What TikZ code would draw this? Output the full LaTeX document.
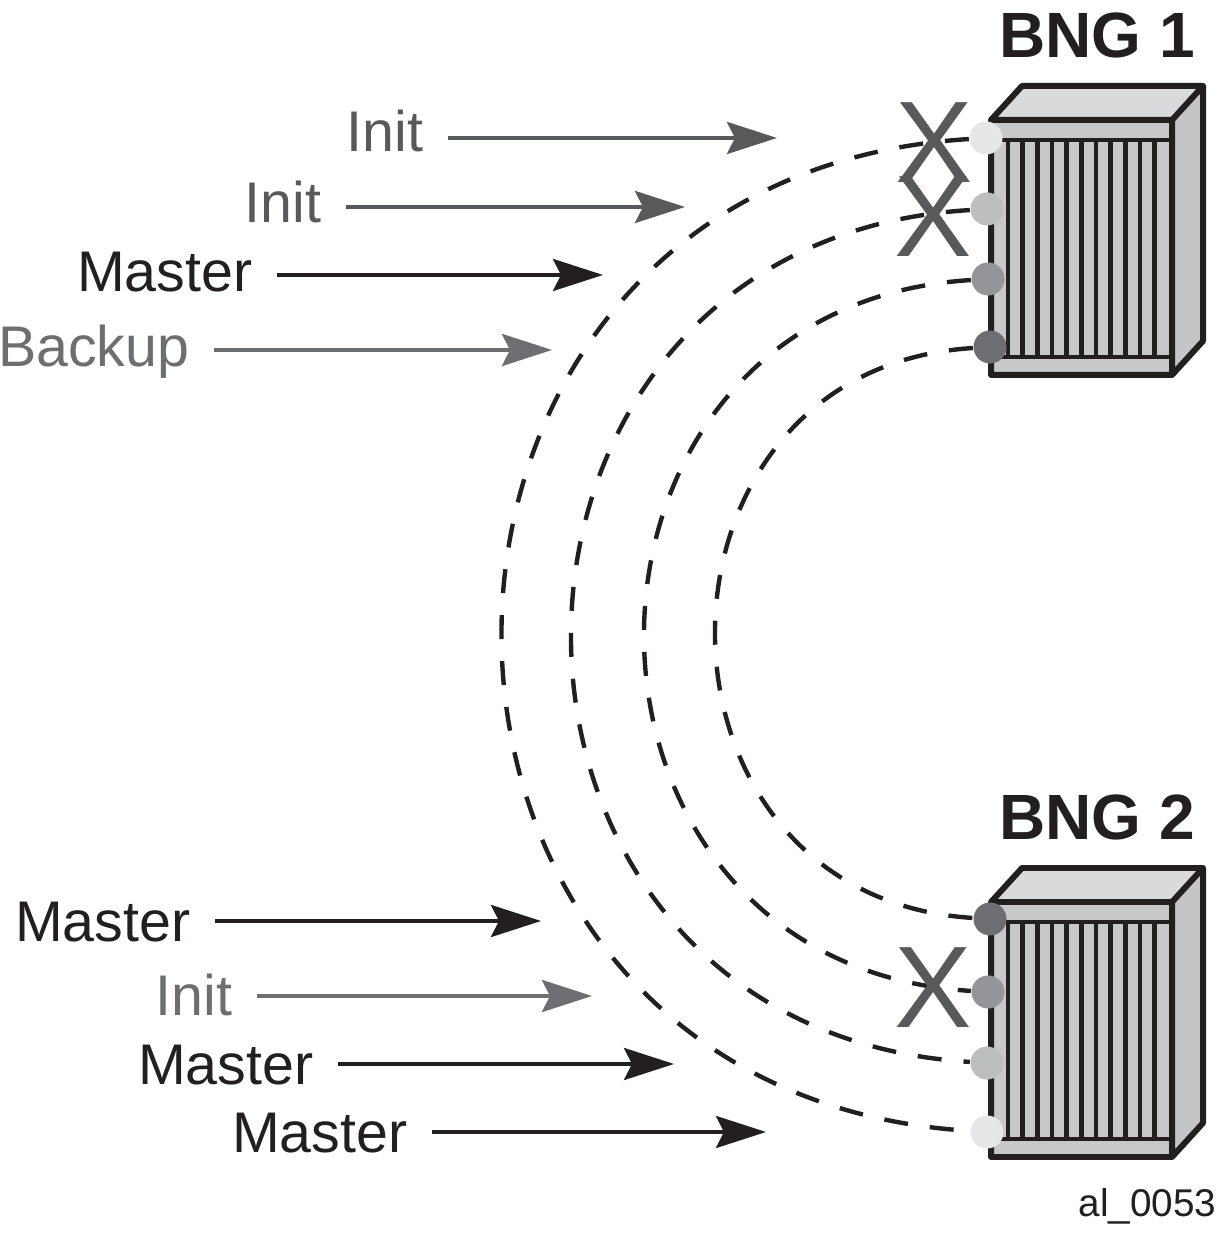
\documentclass[tikz,border=0pt]{standalone}
\usepackage{fontspec}
\setmainfont{Liberation Sans}
\usetikzlibrary{calc,arrows.meta}
\definecolor{ink}{HTML}{231F20}
\definecolor{darkgrey}{HTML}{58595B}
\definecolor{midgrey}{HTML}{6D6E71}
\definecolor{portA}{HTML}{E6E7E8}
\definecolor{portB}{HTML}{BCBEC0}
\definecolor{portC}{HTML}{939598}
\definecolor{portD}{HTML}{6D6E71}
\definecolor{facegrey}{HTML}{C7C8CA}
\definecolor{topgrey}{HTML}{D9DADB}
\definecolor{sidegrey}{HTML}{C4C5C7}
\tikzset{
  lbl/.style={anchor=base east, inner sep=0pt, font=\fontsize{16.3}{19}\selectfont},
  bnglabel/.style={anchor=base, inner sep=0pt, ink, font=\fontsize{18.2}{22}\selectfont\bfseries},
  arr/.style={line width=1.15pt, shorten <=0.24cm, -{Stealth[length=0.5cm, width=0.32cm, inset=0.08cm]}},
  link/.style={ink, line width=1.25pt, dash pattern=on 0.24cm off 0.22cm},
  port/.style={circle, draw=none, minimum size=0.33cm, inner sep=0pt},
  cross/.style={darkgrey, inner sep=0pt, font=\fontsize{33}{33}\selectfont},
  tagtext/.style={anchor=base east, inner sep=0pt, ink, font=\fontsize{11}{13}\selectfont}
}
\newcommand*{\BNGBox}[2]{% #1 = label, #2 = y of front bottom
\fill[sidegrey] (1172,#2) -- (1203,#2+34) -- (1203,#2+289) -- (1172,#2+255) -- cycle;
\fill[topgrey] (991,#2+255) -- (1022,#2+289) -- (1203,#2+289) -- (1172,#2+255) -- cycle;
\fill[facegrey] (991,#2) rectangle (1172,#2+255);
\foreach \x in {0,...,10} {
\draw[ink, line width=1.3pt] (1008+14.65*\x,#2+18) -- (1008+14.65*\x,#2+235);
}%
\draw[ink, line width=1.3pt] (991,#2+18) -- (1172,#2+18) (991,#2+235) -- (1172,#2+235);
\draw[ink, line width=1.7pt, line join=round] (991,#2) rectangle (1172,#2+255)
(991,#2+255) -- (1022,#2+289) -- (1203,#2+289) -- (1203,#2+34) -- (1172,#2)
(1172,#2+255) -- (1203,#2+289);
\node[bnglabel] at (1097,#2+317) {#1};
}
\newcommand*{\PortCells}[1]{% #1 = list of name/x/y/color
\foreach \n/\x/\y/\c in {#1} {
\node[port, fill=\c] (\n) at (\x,\y) {};
}%
}
\newcommand*{\ArrowLabels}[1]{% #1 = list of name/x/y/tip x/tip y/color/text
\foreach \n/\x/\y/\tx/\ty/\c/\t in {#1} {
\node[lbl, \c] (\n) at (\x,\y) {\t};
\coordinate (t\n) at (\tx,\ty);
\draw[arr, \c] (t\n -| \n.east) -- (t\n);
}%
}

\begin{document}
\begin{tikzpicture}[x=0.01cm, y=0.01cm]
\useasboundingbox (0,0) rectangle (1218,1234);

\BNGBox{BNG 1}{859}
\BNGBox{BNG 2}{77}

\PortCells{a1/986/1096/portA, a2/987/1025/portB, a3/988/955/portC, a4/990/887/portD,
b1/990/315/portD, b2/988/242/portC, b3/987/171/portB, b4/987/102/portA}

\foreach \s/\e/\k/\m in {a1/b4/641/40, a2/b3/549/34, a3/b2/453/28, a4/b1/361/22} {
\draw[link] (\s) .. controls +(-\k,-\m) and +(-\k,\m) .. (\e);
}

\node[cross] (x1) at (934,1091) {X};
\node[cross] (x2) at (933,1017) {X};
\node[cross] (x3) at (933,246) {X};

\ArrowLabels{i1/424/1082/777/1096/darkgrey/Init, i2/322/1011/685/1027/darkgrey/Init,
m1/253/942/603/959/ink/Master, k1/190/867/552/884/midgrey/Backup,
m2/191/292/541/313/ink/Master, i3/233/218/592/238/midgrey/Init,
m3/314/149/674/170/ink/Master, m4/408/81/766/102/ink/Master}

\node[tagtext] (tag) at (1217,18) {al\_0053};
\end{tikzpicture}
\end{document}
